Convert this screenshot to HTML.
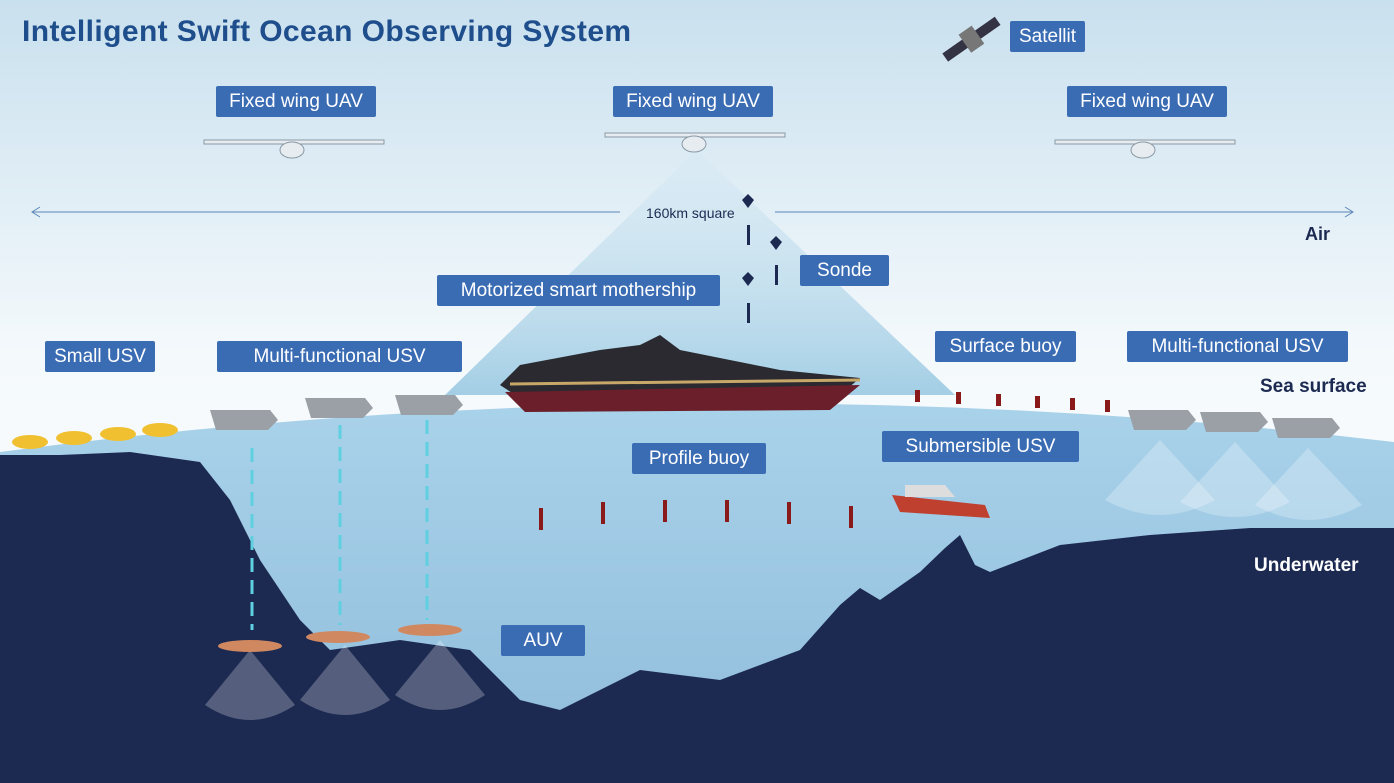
<!DOCTYPE html>
<html><head><meta charset="utf-8"><style>
body{margin:0;width:1394px;height:783px;overflow:hidden;font-family:"Liberation Sans",sans-serif}
.l{position:absolute;background:#3a6cb4;color:#fff;font-size:19px;line-height:31px;text-align:center;border-radius:2px}
.t{position:absolute;font-weight:bold;font-size:19px}
</style></head><body>
<svg width="1394" height="783" style="position:absolute;left:0;top:0">
<defs>
<linearGradient id="sky" x1="0" y1="0" x2="0" y2="1"><stop offset="0" stop-color="#c9e0ee"/><stop offset="0.45" stop-color="#f4f9fc"/><stop offset="1" stop-color="#ffffff"/></linearGradient>
<linearGradient id="sea" x1="0" y1="0" x2="0" y2="1"><stop offset="0" stop-color="#a9d2ea"/><stop offset="1" stop-color="#8fbcdb"/></linearGradient>
<linearGradient id="cone" x1="0" y1="0" x2="0" y2="1"><stop offset="0" stop-color="#d8eaf4" stop-opacity="0.4"/><stop offset="1" stop-color="#8ec3df" stop-opacity="0.8"/></linearGradient>
</defs>
<rect width="1394" height="783" fill="url(#sky)"/>
<polygon points="697,150 445,395 955,395" fill="url(#cone)"/>
<path d="M0,452 Q700,360 1394,442 L1394,783 L0,783Z" fill="url(#sea)"/>
<path d="M0,455 L60,455 L130,452 L200,462 L230,500 L260,560 L300,620 L330,650 L400,640 L470,650 L520,700 L560,710 L640,670 L720,680 L800,650 L840,605 L860,588 L880,600 L920,572 L945,548 L960,535 L975,565 L990,572 L1060,545 L1150,535 L1250,528 L1394,528 L1394,783 L0,783Z" fill="#1c2a52"/>
<g stroke="#5b86b8" stroke-width="1" fill="none"><line x1="32" y1="212" x2="620" y2="212"/><line x1="775" y1="212" x2="1353" y2="212"/><path d="M40,207 L32,212 L40,217 M1345,207 L1353,212 L1345,217"/></g>
<g stroke="#5fd0e0" stroke-width="3" stroke-dasharray="14,8"><line x1="252" y1="448" x2="252" y2="630"/><line x1="340" y1="425" x2="340" y2="625"/><line x1="427" y1="420" x2="427" y2="620"/></g>
<g fill="#e6ecf0" stroke="#8a98a4" stroke-width="1">
<rect x="204" y="140" width="180" height="4"/><ellipse cx="292" cy="150" rx="12" ry="8"/>
<rect x="605" y="133" width="180" height="4"/><ellipse cx="694" cy="144" rx="12" ry="8"/>
<rect x="1055" y="140" width="180" height="4"/><ellipse cx="1143" cy="150" rx="12" ry="8"/>
</g>
<g fill="#334" transform="rotate(-35 972 40)"><rect x="940" y="34" width="64" height="10"/><rect x="964" y="28" width="16" height="22" fill="#777"/></g>
<g fill="#1c2a52"><path d="M742,200 l6,-6 6,6 -6,8z"/><rect x="747" y="225" width="3" height="20"/><path d="M770,242 l6,-6 6,6 -6,8z"/><rect x="775" y="265" width="3" height="20"/><path d="M742,278 l6,-6 6,6 -6,8z"/><rect x="747" y="303" width="3" height="20"/></g>
<path d="M500,385 L520,365 L600,350 L640,345 L660,335 L680,350 L780,370 L860,378 L840,395 L520,398Z" fill="#2a2a30"/>
<path d="M505,392 L860,385 L830,410 L525,412Z" fill="#6b1f2a"/>
<path d="M510,384 L860,380" stroke="#c8a868" stroke-width="3"/>
<g fill="#9aa0a6"><path d="M210,410 h60 l8,10 -10,10 h-52z"/><path d="M305,398 h60 l8,10 -10,10 h-52z"/><path d="M395,395 h60 l8,10 -10,10 h-52z"/><path d="M1128,410 h60 l8,10 -10,10 h-52z"/><path d="M1200,412 h60 l8,10 -10,10 h-52z"/><path d="M1272,418 h60 l8,10 -10,10 h-52z"/></g>
<g fill="#f0c030"><ellipse cx="30" cy="442" rx="18" ry="7"/><ellipse cx="74" cy="438" rx="18" ry="7"/><ellipse cx="118" cy="434" rx="18" ry="7"/><ellipse cx="160" cy="430" rx="18" ry="7"/></g>
<g fill="#fff" fill-opacity="0.25"><path d="M1160,440 L1105,500 Q1160,530 1215,500Z"/><path d="M1235,442 L1180,502 Q1235,532 1290,502Z"/><path d="M1308,448 L1255,505 Q1308,535 1362,505Z"/>
<path d="M250,650 L205,705 Q250,735 295,705Z"/><path d="M345,645 L300,700 Q345,730 390,700Z"/><path d="M440,640 L395,695 Q440,725 485,695Z"/></g>
<g fill="#8a1a1a"><rect x="915" y="390" width="5" height="12"/><rect x="956" y="392" width="5" height="12"/><rect x="996" y="394" width="5" height="12"/><rect x="1035" y="396" width="5" height="12"/><rect x="1070" y="398" width="5" height="12"/><rect x="1105" y="400" width="5" height="12"/>
<rect x="539" y="508" width="4" height="22"/><rect x="601" y="502" width="4" height="22"/><rect x="663" y="500" width="4" height="22"/><rect x="725" y="500" width="4" height="22"/><rect x="787" y="502" width="4" height="22"/><rect x="849" y="506" width="4" height="22"/></g>
<path d="M892,495 L985,505 L990,518 L900,512Z" fill="#c04030"/><path d="M905,485 h40 l10,12 h-50z" fill="#ddd"/>
<g fill="#d08860"><ellipse cx="250" cy="646" rx="32" ry="6"/><ellipse cx="338" cy="637" rx="32" ry="6"/><ellipse cx="430" cy="630" rx="32" ry="6"/></g>
</svg>
<div class="t" style="left:22px;top:15px;font-size:30px;letter-spacing:0.4px;color:#1f4e8c">Intelligent Swift Ocean Observing System</div>
<div class="l" style="left:1010px;top:21px;width:75px">Satellit</div>
<div class="l" style="left:216px;top:86px;width:160px">Fixed wing UAV</div>
<div class="l" style="left:613px;top:86px;width:160px">Fixed wing UAV</div>
<div class="l" style="left:1067px;top:86px;width:160px">Fixed wing UAV</div>
<div style="position:absolute;left:646px;top:205px;font-size:14px;color:#1c2a52">160km square</div>
<div class="t" style="left:1305px;top:224px;color:#1c2a52;font-size:18px">Air</div>
<div class="l" style="left:800px;top:255px;width:89px">Sonde</div>
<div class="l" style="left:437px;top:275px;width:283px">Motorized smart mothership</div>
<div class="l" style="left:45px;top:341px;width:110px">Small USV</div>
<div class="l" style="left:217px;top:341px;width:245px">Multi-functional USV</div>
<div class="l" style="left:935px;top:331px;width:141px">Surface buoy</div>
<div class="l" style="left:1127px;top:331px;width:221px">Multi-functional USV</div>
<div class="t" style="left:1260px;top:376px;color:#1c2a52">Sea surface</div>
<div class="l" style="left:882px;top:431px;width:197px">Submersible USV</div>
<div class="l" style="left:632px;top:443px;width:134px">Profile buoy</div>
<div class="t" style="left:1254px;top:555px;color:#fff">Underwater</div>
<div class="l" style="left:501px;top:625px;width:84px">AUV</div>
</body></html>
